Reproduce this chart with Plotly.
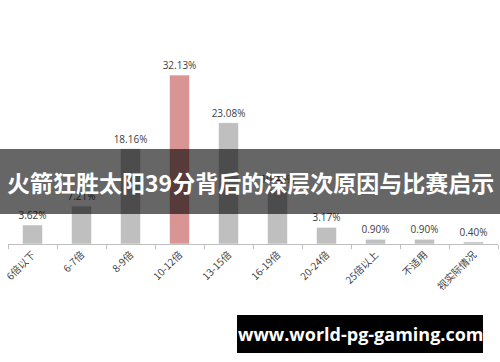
import plotly.graph_objects as go

categories = ["6倍以下", "6-7倍", "8-9倍", "10-12倍", "13-15倍", "16-19倍",
              "20-24倍", "25倍以上", "不适用", "视实际情况"]
values = [3.62, 7.21, 18.16, 32.13, 23.08, 10.43, 3.17, 0.90, 0.90, 0.40]
highlight = "10-12倍"
title_text = "火箭狂胜太阳39分背后的深层次原因与比赛启示"
footer_text = "www.world-pg-gaming.com"

colors = ["#D99594" if c == highlight else "#BFBFBF" for c in categories]

fig = go.Figure()
fig.add_trace(go.Bar(
    x=categories, y=values,
    marker=dict(color=colors, line=dict(color="rgba(255,255,255,0.6)", width=1)),
    text=[f"{v:.2f}%" for v in values],
    textposition="outside", cliponaxis=False, constraintext="none",
    textfont=dict(size=10, color="#404040", family="Open Sans"),
    width=0.41,
))

fig.update_layout(
    width=500, height=362,
    margin=dict(l=8, r=2, t=20, b=118),
    paper_bgcolor="white", plot_bgcolor="white",
    showlegend=False,
    xaxis=dict(
        showline=True, linecolor="#BFBFBF", linewidth=1,
        ticks="outside", tickson="boundaries", ticklen=4, tickcolor="#BFBFBF",
        tickangle=-45, tickfont=dict(size=10, color="#404040", family="Noto Sans CJK SC"),
        showgrid=False,
    ),
    yaxis=dict(range=[0, 42.6], visible=False, showgrid=False),
    shapes=[
        dict(type="rect", xref="paper", yref="paper", x0=-0.02, x1=1.02,
             y0=(362 - 118 - 214) / 224, y1=(362 - 118 - 149) / 224,
             fillcolor="rgba(0,0,0,0.6)", line=dict(width=0), layer="above"),
        dict(type="rect", xref="paper", yref="paper",
             x0=(237 - 8) / 490, x1=(483 - 8) / 490,
             y0=(244 - 353) / 224, y1=(244 - 315) / 224,
             fillcolor="black", line=dict(width=0), layer="above"),
    ],
    annotations=[
        dict(text=f"<b>{title_text}</b>", xref="paper", yref="paper",
             x=(250 - 8) / 490, y=(244 - 182) / 224, showarrow=False,
             font=dict(size=23, color="white", family="Noto Sans CJK SC"),
             xanchor="center", yanchor="middle"),
        dict(text=f"<b>{footer_text}</b>", xref="paper", yref="paper",
             x=(361 - 8) / 490, y=(244 - 334) / 224, showarrow=False,
             font=dict(size=18, color="white", family="Open Sans"),
             xanchor="center", yanchor="middle"),
    ],
)

fig.write_html("out.html")
